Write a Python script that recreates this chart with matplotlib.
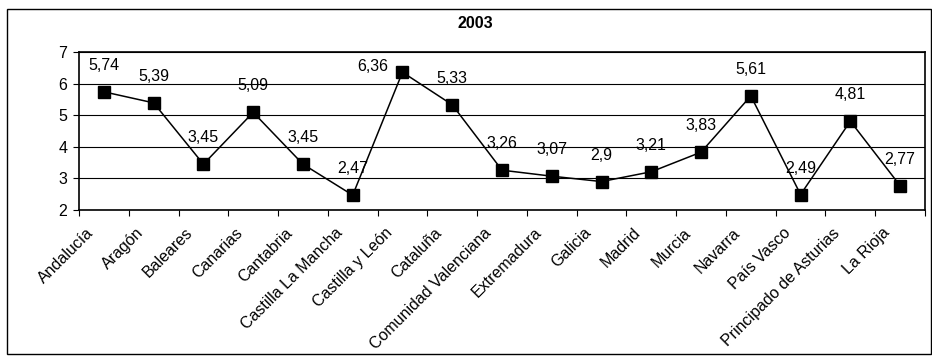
import matplotlib.pyplot as plt
from matplotlib.patches import Rectangle

plt.rcParams['font.family'] = ['Liberation Sans', 'DejaVu Sans']

regiones = ['Andalucía', 'Aragón', 'Baleares', 'Canarias', 'Cantabria',
            'Castilla La Mancha', 'Castilla y León', 'Cataluña',
            'Comunidad Valenciana', 'Extremadura', 'Galicia', 'Madrid',
            'Murcia', 'Navarra', 'País Vasco', 'Principado de Asturias',
            'La Rioja']
valores = [5.74, 5.39, 3.45, 5.09, 3.45, 2.47, 6.36, 5.33, 3.26, 3.07,
           2.9, 3.21, 3.83, 5.61, 2.49, 4.81, 2.77]

W, H = 932, 356
fs = 11.5
fig = plt.figure(figsize=(W / 100, H / 100), dpi=100)

# marco exterior del grafico
fig.patches.append(Rectangle((7 / W, 1 - 354 / H), (931 - 7) / W, (354 - 9) / H,
                             transform=fig.transFigure, fill=False,
                             edgecolor='black', linewidth=1))

ax = fig.add_axes([79 / W, 1 - 210 / H, (925 - 79) / W, (210 - 52) / H])
x = list(range(len(regiones)))
ymin, ymax = 2, 7

ax.plot(x, valores, color='black', linewidth=1.1, marker='s',
        markersize=8.3, markerfacecolor='black', zorder=3)
for xi, v in zip(x, valores):
    txt = ('%g' % v).replace('.', ',')
    if v > ymax - 0.8:
        # no cabe encima: a la izquierda del punto
        ax.annotate(txt, (xi, v), xytext=(-10, 4.3), textcoords='offset points',
                    ha='right', va='center', fontsize=fs)
    else:
        ax.annotate(txt, (xi, v), xytext=(0, 19), textcoords='offset points',
                    ha='center', va='center', fontsize=fs)

ax.set_xlim(-0.5, len(regiones) - 0.5)
ax.set_ylim(ymin, ymax)
ax.set_yticks(range(ymin, ymax + 1))
ax.grid(axis='y', color='black', linewidth=0.8)
ax.set_axisbelow(True)

# marcas entre categorias, nombres girados bajo cada punto
ax.set_xticks([i - 0.5 for i in range(len(regiones) + 1)])
ax.set_xticklabels([])
ax.tick_params(axis='x', length=4, direction='out')
for xi, nombre in zip(x, regiones):
    ax.annotate(nombre, (xi, 0), xycoords=ax.get_xaxis_transform(),
                xytext=(-13, -11), textcoords='offset points',
                rotation=45, rotation_mode='anchor', ha='right', va='top',
                fontsize=fs, annotation_clip=False)

ax.tick_params(axis='y', length=4.3, labelsize=fs, pad=4)

for s in ax.spines.values():
    s.set_color('black')
    s.set_linewidth(1.2)

fig.text(475 / W, 1 - 24 / H, '2003', ha='center', va='center',
         fontsize=fs, fontweight='bold')

fig.savefig('out.png', dpi=100)
